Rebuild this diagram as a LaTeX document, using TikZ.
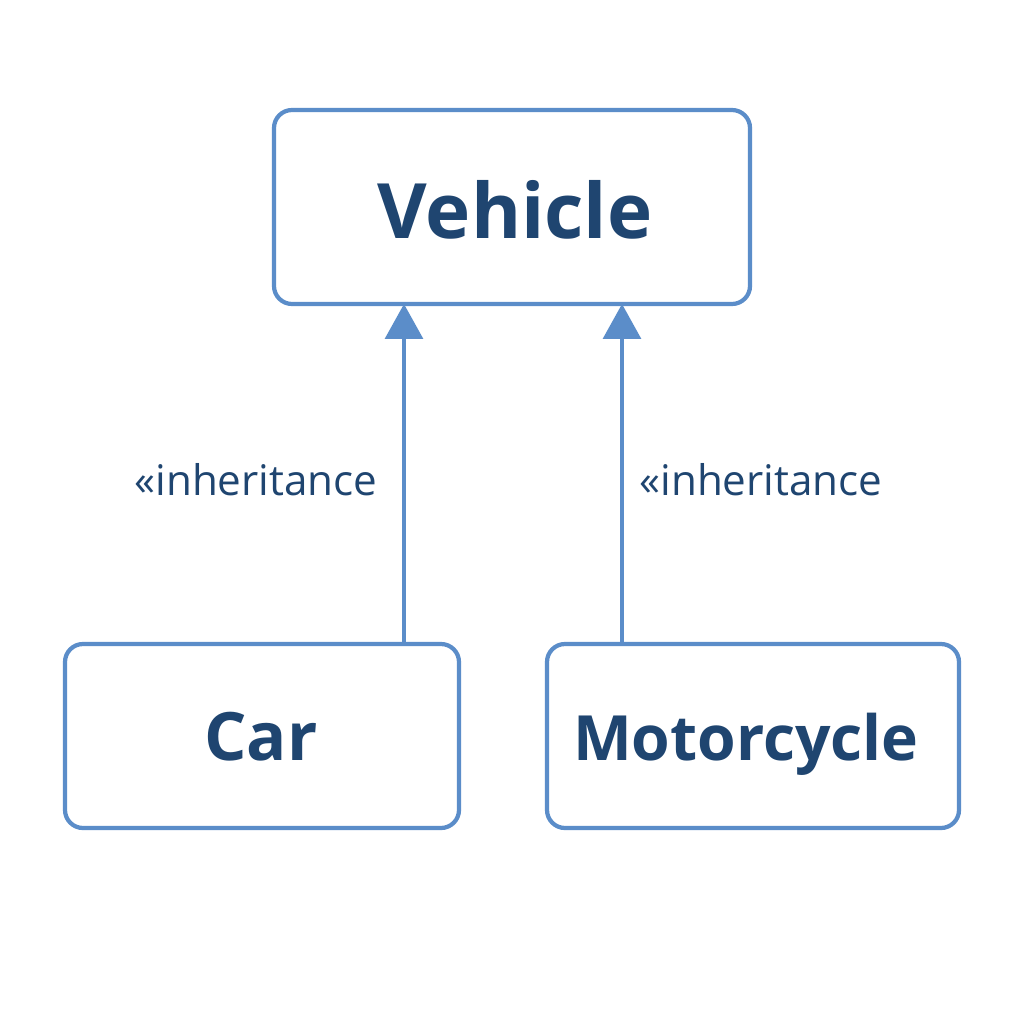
\documentclass[tikz,border=0pt]{standalone}
\usepackage{fontspec}
\setmainfont{Open Sans}
\usetikzlibrary{arrows.meta}
\definecolor{boxblue}{HTML}{5B8DC9}
\definecolor{txtblue}{HTML}{1F4570}
\tikzset{
  cls/.style={draw=boxblue, line width=2.4pt, rounded corners=0.36cm, fill=white, inner sep=0pt},
  inh/.style={draw=boxblue, line width=1.8pt, -{Triangle[length=0.7cm, width=0.76cm, fill=boxblue]}},
  lbl/.style={text=txtblue, font=\fontsize{24}{28}\selectfont, inner sep=0pt},
  ttl/.style={text=txtblue, inner sep=0pt, anchor=base}
}
\begin{document}
\begin{tikzpicture}[x=0.02cm, y=-0.02cm]
\useasboundingbox (0,0) rectangle (1024,1024);
\fill[white] (0,0) rectangle (1024,1024);
% boxes
\draw[cls] (274,110) rectangle (750,304);
\draw[cls] (65,644) rectangle (459,828);
\draw[cls] (547,644) rectangle (959,828);
\node[ttl, font=\bfseries\fontsize{43.5}{48}\selectfont] (vehT) at (515,238) {Vehicle};
\node[ttl, font=\bfseries\fontsize{38}{42}\selectfont] (carT) at (261,760) {Car};
\node[ttl, font=\bfseries\fontsize{35.5}{40}\selectfont] (motT) at (746,760) {Motorcycle};
\coordinate (carTop) at (404,644);
\coordinate (vehL) at (404,304);
\coordinate (motTop) at (622,644);
\coordinate (vehR) at (622,304);
\draw[inh] (carTop) -- (vehL);
\draw[inh] (motTop) -- (vehR);
\node[lbl] (l1) at (256,480) {«inheritance};
\node[lbl] (l2) at (761,480) {«inheritance};
\end{tikzpicture}
\end{document}
